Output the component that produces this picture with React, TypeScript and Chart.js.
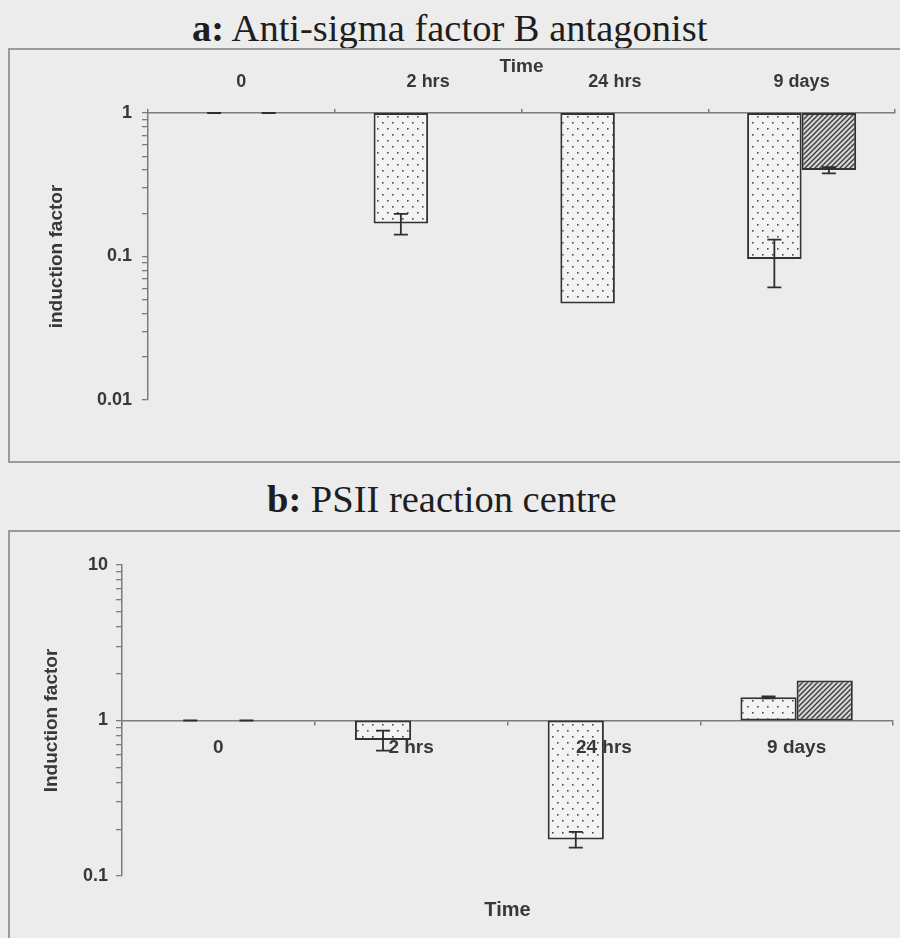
import React, { useEffect, useRef } from 'react';
import { Chart, registerables } from 'chart.js';

Chart.register(...registerables);

// ---------- data ----------
const categories = ['0', '2 hrs', '24 hrs', '9 days'];

// panel a: Anti-sigma factor B antagonist
const aDotted = [1, 0.17, 0.047, 0.096];
const aDottedErr = [0, 0.028, null, 0.035];
const aHatched = [1, null, null, 0.4];
const aHatchedErr = [0, null, null, 0.02];
const aYMin = 0.01;
const aYMax = 1;
const aYTicks = [0.01, 0.02, 0.03, 0.04, 0.05, 0.06, 0.07, 0.08, 0.09, 0.1, 0.2, 0.3, 0.4, 0.5, 0.6, 0.7, 0.8, 0.9, 1];
const aYLabelled = [0.01, 0.1, 1];

// panel b: PSII reaction centre
const bDotted = [1, 0.75, 0.172, 1.41];
const bDottedErr = [0, 0.11, 0.02, 0.02];
const bHatched = [1, null, null, 1.81];
const bHatchedErr = [0, null, null, null];
const bYMin = 0.1;
const bYMax = 10;
const bYTicks = [0.1, 0.2, 0.3, 0.4, 0.5, 0.6, 0.7, 0.8, 0.9, 1, 2, 3, 4, 5, 6, 7, 8, 9, 10];
const bYLabelled = [0.1, 1, 10];

// ---------- styling ----------
const BG = '#ececec';
const AXIS = '#7c7c7c';
const TEXT = '#383838';
const BAR_BORDER = '#333333';
const SANS = "'Liberation Sans', Arial, sans-serif";
const SERIF = "'Liberation Serif', 'Times New Roman', serif";

function makeDotPattern(ctx: CanvasRenderingContext2D) {
  const t = document.createElement('canvas');
  t.width = 10;
  t.height = 12;
  const c = t.getContext('2d')!;
  c.fillStyle = '#f3f3f3';
  c.fillRect(0, 0, 10, 12);
  c.fillStyle = '#4a4a4a';
  c.fillRect(2, 2, 1.6, 1.6);
  c.fillRect(7, 8, 1.6, 1.6);
  return ctx.createPattern(t, 'repeat');
}

function makeHatchPattern(ctx: CanvasRenderingContext2D) {
  const s = 5;
  const t = document.createElement('canvas');
  t.width = s;
  t.height = s;
  const c = t.getContext('2d')!;
  c.fillStyle = '#d6d6d6';
  c.fillRect(0, 0, s, s);
  c.strokeStyle = '#3c3c3c';
  c.lineWidth = 1.4;
  c.beginPath();
  c.moveTo(-1, s + 1);
  c.lineTo(s + 1, -1);
  c.moveTo(-1, 1);
  c.lineTo(1, -1);
  c.moveTo(s - 1, s + 1);
  c.lineTo(s + 1, s - 1);
  c.stroke();
  return ctx.createPattern(t, 'repeat');
}

const floating = (vals: (number | null)[]) => vals.map((v) => (v == null ? null : [1, v]));

const errorBarPlugin = {
  id: 'errorBars',
  afterDatasetsDraw(chart: any) {
    const ctx = chart.ctx;
    const yScale = chart.scales.y;
    const cap = 7;
    chart.data.datasets.forEach((ds: any, i: number) => {
      const meta = chart.getDatasetMeta(i);
      const errs = ds.errors as (number | null)[];
      const vals = ds.values as (number | null)[];
      if (!errs) return;
      errs.forEach((e, j) => {
        const v = vals[j];
        if (e == null || v == null) return;
        const el = meta.data[j];
        if (!el) return;
        const x = el.x;
        const yTop = yScale.getPixelForValue(v + e);
        const yBot = yScale.getPixelForValue(v - e);
        ctx.save();
        ctx.strokeStyle = '#2e2e2e';
        ctx.lineWidth = 1.8;
        ctx.beginPath();
        ctx.moveTo(x, yTop);
        ctx.lineTo(x, yBot);
        ctx.moveTo(x - cap, yTop);
        ctx.lineTo(x + cap, yTop);
        ctx.moveTo(x - cap, yBot);
        ctx.lineTo(x + cap, yBot);
        ctx.stroke();
        ctx.restore();
      });
    });
  },
};

function yTickCallback(labelled: number[]) {
  return (value: any) => {
    const v = Number(value);
    const hit = labelled.find((l) => Math.abs(l - v) / l < 1e-6);
    return hit != null ? String(hit) : '';
  };
}

function PanelA() {
  const ref = useRef<HTMLCanvasElement>(null);
  useEffect(() => {
    const canvas = ref.current!;
    const ctx = canvas.getContext('2d')!;
    const dots = makeDotPattern(ctx);
    const hatch = makeHatchPattern(ctx);
    const chart = new Chart(canvas, {
      type: 'bar',
      data: {
        labels: categories,
        datasets: [
          {
            data: floating(aDotted) as any,
            values: aDotted,
            errors: aDottedErr,
            backgroundColor: dots as any,
            borderColor: BAR_BORDER,
            borderWidth: 2,
            borderSkipped: false,
          } as any,
          {
            data: floating(aHatched) as any,
            values: aHatched,
            errors: aHatchedErr,
            backgroundColor: hatch as any,
            borderColor: BAR_BORDER,
            borderWidth: 2,
            borderSkipped: false,
          } as any,
        ],
      },
      options: {
        responsive: false,
        animation: false,
        events: [],
        layout: { padding: { left: 0, right: 5, top: 0, bottom: 63 } },
        datasets: { bar: { categoryPercentage: 0.584, barPercentage: 1 } },
        plugins: { legend: { display: false }, tooltip: { enabled: false }, title: { display: false } },
        scales: {
          x: {
            position: 'top',
            grid: { drawOnChartArea: false, tickLength: 4, color: AXIS, lineWidth: 1.5 },
            border: { color: AXIS, width: 1.5 },
            ticks: { color: TEXT, font: { family: SANS, size: 18, weight: 'bold' }, padding: 16, maxRotation: 0, autoSkip: false },
            title: { display: true, text: 'Time', color: TEXT, font: { family: SANS, size: 19, weight: 'bold' }, padding: { top: 7, bottom: 0 } },
            afterFit: (s: any) => {
              s.height = 65;
            },
          },
          y: {
            type: 'logarithmic',
            min: aYMin,
            max: aYMax,
            grid: { drawOnChartArea: false, tickLength: 6, color: AXIS, lineWidth: 1.3 },
            border: { color: AXIS, width: 1.5 },
            ticks: { color: TEXT, font: { family: SANS, size: 18, weight: 'bold' }, padding: 10, autoSkip: false, callback: yTickCallback(aYLabelled) },
            title: { display: true, text: 'induction factor', color: TEXT, font: { family: SANS, size: 19, weight: 'bold' }, padding: { top: 45.6, bottom: 0 } },
            afterBuildTicks: (s: any) => {
              s.ticks = aYTicks.map((v) => ({ value: v }));
            },
            afterFit: (s: any) => {
              s.width = 148;
            },
          },
        },
      } as any,
      plugins: [errorBarPlugin],
    });
    return () => chart.destroy();
  }, []);
  return <canvas ref={ref} width={900} height={415} style={{ position: 'absolute', left: 0, top: 48, width: 900, height: 415 }} />;
}

function PanelB() {
  const ref = useRef<HTMLCanvasElement>(null);
  useEffect(() => {
    const canvas = ref.current!;
    const ctx = canvas.getContext('2d')!;
    const dots = makeDotPattern(ctx);
    const hatch = makeHatchPattern(ctx);
    const chart = new Chart(canvas, {
      type: 'bar',
      data: {
        labels: categories,
        datasets: [
          {
            data: floating(bDotted) as any,
            values: bDotted,
            errors: bDottedErr,
            backgroundColor: dots as any,
            borderColor: BAR_BORDER,
            borderWidth: 2,
            borderSkipped: false,
          } as any,
          {
            data: floating(bHatched) as any,
            values: bHatched,
            errors: bHatchedErr,
            backgroundColor: hatch as any,
            borderColor: BAR_BORDER,
            borderWidth: 2,
            borderSkipped: false,
          } as any,
        ],
      },
      options: {
        responsive: false,
        animation: false,
        events: [],
        layout: { padding: { left: 0, right: 7, top: 35, bottom: 0 } },
        datasets: { bar: { categoryPercentage: 0.583, barPercentage: 1 } },
        plugins: {
          legend: { display: false },
          tooltip: { enabled: false },
          title: {
            display: true,
            position: 'bottom',
            fullSize: false,
            text: 'Time',
            color: TEXT,
            font: { family: SANS, size: 20, weight: 'bold' },
            padding: { top: 22, bottom: 16 },
          },
        },
        scales: {
          x: {
            position: { y: 1 },
            grid: { drawOnChartArea: false, tickLength: 4, color: AXIS, lineWidth: 1.5 },
            border: { color: AXIS, width: 1.5 },
            ticks: { z: 1, color: TEXT, font: { family: SANS, size: 19, weight: 'bold' }, padding: 12, maxRotation: 0, autoSkip: false },
          },
          y: {
            type: 'logarithmic',
            min: bYMin,
            max: bYMax,
            grid: { drawOnChartArea: false, tickLength: 6, color: AXIS, lineWidth: 1.3 },
            border: { color: AXIS, width: 1.5 },
            ticks: { color: TEXT, font: { family: SANS, size: 18, weight: 'bold' }, padding: 8, autoSkip: false, callback: yTickCallback(bYLabelled) },
            title: { display: true, text: 'Induction factor', color: TEXT, font: { family: SANS, size: 19, weight: 'bold' }, padding: { top: 40.6, bottom: 0 } },
            afterBuildTicks: (s: any) => {
              s.ticks = bYTicks.map((v) => ({ value: v }));
            },
            afterFit: (s: any) => {
              s.width = 122;
            },
          },
        },
      } as any,
      plugins: [errorBarPlugin],
    });
    return () => chart.destroy();
  }, []);
  return <canvas ref={ref} width={900} height={408} style={{ position: 'absolute', left: 0, top: 530, width: 900, height: 408 }} />;
}

export default function App() {
  const titleStyle: React.CSSProperties = {
    position: 'absolute',
    fontFamily: SERIF,
    fontSize: 38.5,
    lineHeight: '1',
    color: '#1e1e1e',
    whiteSpace: 'nowrap',
  };
  return (
    <div style={{ position: 'absolute', left: 0, top: 0, width: 900, height: 938, overflow: 'hidden', background: BG }}>
      <div style={{ ...titleStyle, left: 192, top: 8.5 }}>
        <b>a:</b> Anti-sigma factor B antagonist
      </div>
      <div style={{ position: 'absolute', left: 8, top: 48, width: 920, height: 411, border: '2px solid #9b9b9b' }} />
      <PanelA />
      <div style={{ ...titleStyle, left: 267, top: 479.8 }}>
        <b>b:</b> PSII reaction centre
      </div>
      <div style={{ position: 'absolute', left: 8, top: 530, width: 920, height: 440, border: '2px solid #9b9b9b' }} />
      <PanelB />
    </div>
  );
}
